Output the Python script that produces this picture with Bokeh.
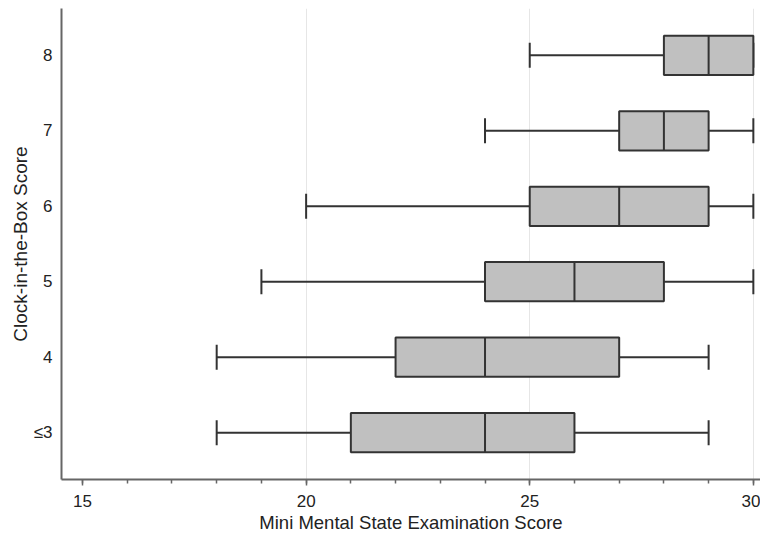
from bokeh.plotting import figure
from bokeh.models import ColumnDataSource, FixedTicker, Range1d
from bokeh.embed import file_html
from bokeh.resources import INLINE

categories = ["≤3", "4", "5", "6", "7", "8"]
whisker_low = [18, 18, 19, 20, 24, 25]
q1 = [21, 22, 24, 25, 27, 28]
median = [24, 24, 26, 27, 28, 29]
q3 = [26, 27, 28, 29, 29, 30]
whisker_high = [29, 29, 30, 30, 30, 30]

ypos = list(range(len(categories)))
box_h = 0.52
cap_h = 0.33

src = ColumnDataSource(dict(
    y=ypos, lo=whisker_low, q1=q1, med=median, q3=q3, hi=whisker_high,
    y0=[v - box_h / 2 for v in ypos], y1=[v + box_h / 2 for v in ypos],
    c0=[v - cap_h / 2 for v in ypos], c1=[v + cap_h / 2 for v in ypos],
))

p = figure(width=760, height=535, output_backend="svg", toolbar_location=None,
           x_range=Range1d(14.53, 30.16), y_range=Range1d(-0.62, 5.62),
           min_border_top=8, min_border_right=0, min_border_left=61, min_border_bottom=0)
p.outline_line_color = None
p.background_fill_color = "white"
p.border_fill_color = "white"

edge = "#333333"
lw = 2

# whiskers
p.segment(x0="lo", y0="y", x1="q1", y1="y", source=src, line_color=edge, line_width=lw)
p.segment(x0="q3", y0="y", x1="hi", y1="y", source=src, line_color=edge, line_width=lw)
# caps
p.segment(x0="lo", y0="c0", x1="lo", y1="c1", source=src, line_color=edge, line_width=lw)
p.segment(x0="hi", y0="c0", x1="hi", y1="c1", source=src, line_color=edge, line_width=lw)
# boxes
p.hbar(y="y", left="q1", right="q3", height=box_h, source=src,
       fill_color="#c0c0c0", line_color=edge, line_width=lw)
# medians
p.segment(x0="med", y0="y0", x1="med", y1="y1", source=src, line_color=edge, line_width=lw)

# x axis
p.xaxis.ticker = FixedTicker(ticks=[15, 20, 25, 30], minor_ticks=list(range(15, 31)))
p.xaxis.axis_label = "Mini Mental State Examination Score"
p.xaxis.axis_label_text_font = "Liberation Sans"
p.xaxis.axis_label_text_font_style = "normal"
p.xaxis.axis_label_text_font_size = "18.5px"
p.xaxis.axis_label_text_color = "#222222"
p.xaxis.axis_label_standoff = 2
p.xaxis.major_label_text_font = "Liberation Sans"
p.xaxis.major_label_text_font_size = "17px"
p.xaxis.major_label_text_color = "#222222"
p.xaxis.major_label_standoff = 9
p.xaxis.axis_line_color = "#666666"
p.xaxis.axis_line_width = 2
p.xaxis.major_tick_line_color = "#666666"
p.xaxis.minor_tick_line_color = "#666666"
p.xaxis.major_tick_line_width = 1.5
p.xaxis.minor_tick_line_width = 1.5
p.xaxis.major_tick_out = 6
p.xaxis.major_tick_in = 0
p.xaxis.minor_tick_out = 4
p.xaxis.minor_tick_in = 0

# y axis
p.yaxis.ticker = FixedTicker(ticks=ypos, minor_ticks=[])
p.yaxis.major_label_overrides = {i: c for i, c in zip(ypos, categories)}
p.yaxis.axis_label = "Clock-in-the-Box Score"
p.yaxis.axis_label_text_font = "Liberation Sans"
p.yaxis.axis_label_text_font_style = "normal"
p.yaxis.axis_label_text_font_size = "19px"
p.yaxis.axis_label_text_color = "#222222"
p.yaxis.axis_label_standoff = 0
p.yaxis.major_label_text_font = "Liberation Sans"
p.yaxis.major_label_text_font_size = "17px"
p.yaxis.major_label_text_color = "#222222"
p.yaxis.axis_line_color = "#666666"
p.yaxis.axis_line_width = 2
p.yaxis.major_tick_line_color = None
p.yaxis.minor_tick_line_color = None
p.yaxis.major_tick_out = 0
p.yaxis.major_tick_in = 0
p.yaxis.major_label_standoff = 9

p.xgrid.ticker = FixedTicker(ticks=[20, 25, 30])
p.xgrid.grid_line_color = "#e6e6e6"
p.xgrid.grid_line_width = 1
p.ygrid.grid_line_color = None

open("out.html", "w").write(file_html(p, INLINE))
